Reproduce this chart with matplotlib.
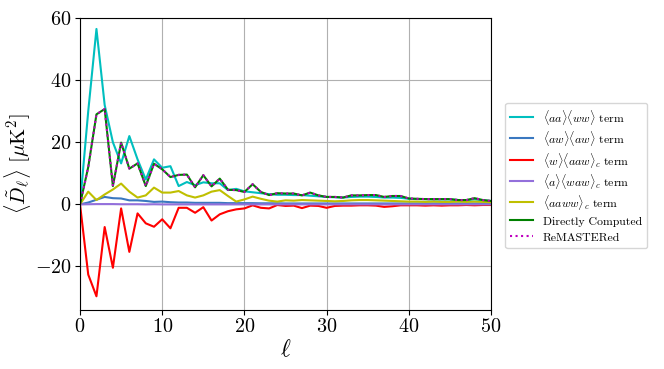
import matplotlib
matplotlib.use("Agg")
import matplotlib.pyplot as plt
import numpy as np

plt.rcParams['font.family'] = 'serif'
plt.rcParams['font.serif'] = ['cmr10', 'DejaVu Serif']
plt.rcParams['mathtext.fontset'] = 'cm'
plt.rcParams['axes.formatter.use_mathtext'] = True

ell = np.arange(0, 51)

aa_ww = [0, 30, 56.5, 32, 20, 13.2, 22, 14.5, 8, 14.5, 11.8, 12.3, 5.9, 7.2, 6.2,
         7.1, 6.8, 6.8, 4.6, 5.0, 4.2, 3.9, 3.6, 3.3, 3.1, 3.1, 3.0, 3.0, 2.8, 2.6,
         2.4, 2.3, 2.2, 2.4, 2.5, 2.5, 2.4, 2.2, 2.2, 2.1, 1.8, 1.7, 1.7, 1.6, 1.6,
         1.6, 1.4, 1.3, 1.6, 1.3, 1.1]
aw_aw = [0, 0.6, 1.5, 2.4, 2.0, 1.9, 1.3, 1.3, 1.1, 0.8, 0.9, 0.7, 0.6, 0.6, 0.5,
         0.5, 0.5, 0.5, 0.4, 0.4, 0.4, 0.4, 0.35, 0.35, 0.35, 0.3, 0.3, 0.3, 0.3, 0.3,
         0.3, 0.3, 0.3, 0.3, 0.3, 0.3, 0.3, 0.3, 0.3, 0.3, 0.3, 0.3, 0.3, 0.3, 0.3,
         0.3, 0.3, 0.3, 0.3, 0.3, 0.3]
w_aaw = [0, -22.6, -29.6, -7.3, -20.4, -1.3, -15.3, -2.9, -6.1, -7.2, -4.8, -7.7,
         -1.1, -1.1, -2.7, -0.9, -5.2, -3.2, -2.2, -1.6, -1.3, -0.3, -1.1, -1.3, -0.2,
         -0.5, -0.4, -1.2, -0.4, -0.5, -1.1, -0.5, -0.4, -0.4, -0.3, -0.3, -0.4, -0.8,
         -0.6, -0.3, -0.3, -0.3, -0.4, -0.3, -0.4, -0.3, -0.3, -0.2, -0.3, -0.2, -0.2]
a_waw = [0, 0.05, 0.1, 0.1, 0.1, 0.05, 0.05, 0.05, 0.0, 0.05, 0.0, 0.0, 0.0, 0.0, 0.0,
         0.0, 0.0, 0.0, 0.0, 0.0, 0.0, 0.0, 0.0, 0.0, 0.0, 0.0, 0.0, 0.0, 0.0, 0.0,
         0.0, 0.0, 0.0, 0.0, 0.0, 0.0, 0.0, 0.0, 0.0, 0.0, 0.0, 0.0, 0.0, 0.0, 0.0,
         0.0, 0.0, 0.0, 0.0, 0.0, 0.0]
aaww = [0, 4.1, 1.4, 3.2, 4.8, 6.7, 4.1, 2.2, 2.9, 5.4, 3.8, 3.8, 4.3, 2.9, 2.2, 2.9,
        4.1, 4.6, 2.7, 0.9, 1.6, 2.5, 1.8, 1.2, 0.9, 1.3, 1.2, 1.4, 1.3, 1.2, 1.1, 1.0,
        1.1, 1.3, 1.4, 1.4, 1.3, 1.2, 1.1, 1.0, 0.9, 0.9, 0.8, 0.9, 0.8, 0.8, 0.9, 0.8,
        0.9, 0.8, 0.7]
direct = [0, 12, 29, 30.7, 5.9, 19.9, 11.5, 13.2, 5.9, 13.1, 11.3, 8.8, 9.5, 9.6, 5.5,
          9.4, 5.8, 8.3, 4.7, 4.6, 4.0, 6.5, 4.0, 3.0, 3.6, 3.5, 3.5, 2.9, 3.8, 2.9,
          2.4, 2.4, 2.2, 2.9, 2.9, 3.0, 3.0, 2.4, 2.7, 2.7, 1.9, 1.8, 1.7, 1.7, 1.7,
          1.7, 1.4, 1.4, 2.0, 1.4, 1.1]
remastered = list(direct)

fig = plt.figure(figsize=(6.64, 3.69), dpi=100)
ax = fig.add_axes([0.1205, 0.160, 0.619, 0.791])

lw = 1.5
ax.plot(ell, aa_ww, color='c', lw=lw, label=r'$\langle aa\rangle\langle ww\rangle$ term')
ax.plot(ell, aw_aw, color='#3a78c0', lw=lw, label=r'$\langle aw\rangle\langle aw\rangle$ term')
ax.plot(ell, w_aaw, color='red', lw=lw, label=r'$\langle w\rangle\langle aaw\rangle_c$ term')
ax.plot(ell, a_waw, color='mediumpurple', lw=lw, label=r'$\langle a\rangle\langle waw\rangle_c$ term')
ax.plot(ell, aaww, color='y', lw=lw, label=r'$\langle aaww\rangle_c$ term')
ax.plot(ell, direct, color='green', lw=lw, label='Directly Computed')
ax.plot(ell, remastered, color='m', lw=lw, ls=':', label='ReMASTERed')

ax.set_xlim(0, 50)
ax.set_ylim(-34, 60)
ax.set_yticks([-20, 0, 20, 40, 60])
ax.set_xticks([0, 10, 20, 30, 40, 50])
ax.tick_params(labelsize=14.5, pad=2.5)
ax.grid(True, color='#b0b0b0', lw=0.8)
ax.set_xlabel(r'$\ell$', fontsize=17, labelpad=2)
ax.set_ylabel(r'$\langle \tilde{D}_\ell\rangle\ [\mu\mathrm{K}^2]$', fontsize=15, labelpad=1)

ax.legend(loc='center left', bbox_to_anchor=(1.02, 0.46), fontsize=8.5,
          handlelength=2.0, handleheight=1.35, labelspacing=0.2,
          handletextpad=0.8, borderpad=0.4)

fig.savefig('out.png', dpi=100)
